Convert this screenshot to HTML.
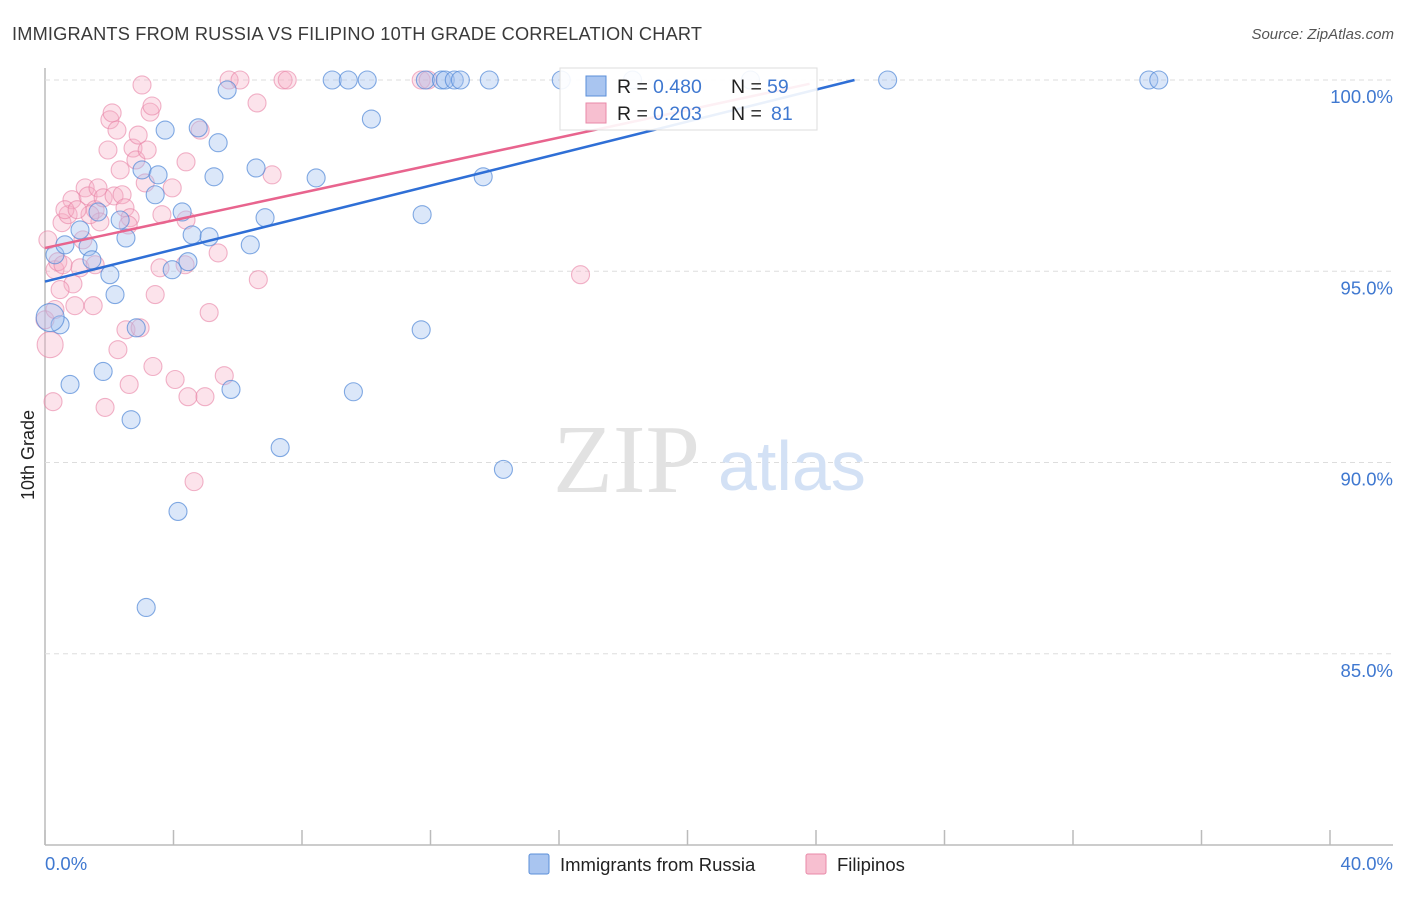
<!DOCTYPE html>
<html><head><meta charset="utf-8"><style>
body{margin:0;background:#fff;font-family:"Liberation Sans",sans-serif;}
</style></head><body>
<svg width="1406" height="892" viewBox="0 0 1406 892" xmlns="http://www.w3.org/2000/svg">
<text x="12" y="40" font-size="18.2" fill="#3a3a3a" textLength="690">IMMIGRANTS FROM RUSSIA VS FILIPINO 10TH GRADE CORRELATION CHART</text>
<text x="1394" y="39" font-size="15" fill="#555" font-style="italic" text-anchor="end">Source: ZipAtlas.com</text>
<g id="grid"></g>
<text x="553" y="492" font-size="98" fill="#e2e2e2" font-family="Liberation Serif,serif">ZIP</text>
<text x="718" y="490" font-size="70" fill="#d3e1f5">atlas</text>
<g id="pts"></g>
<g id="lines"></g>
<text transform="translate(34,455) rotate(-90)" font-size="18" fill="#222" text-anchor="middle">10th Grade</text>
<text x="45" y="870" font-size="18.5" fill="#3f78d0">0.0%</text>
<text x="1393" y="870" font-size="18.5" fill="#3f78d0" text-anchor="end">40.0%</text>
<g>
<rect x="560" y="68" width="257" height="62" fill="#fff" fill-opacity="0.9" stroke="#ddd"/>
<rect x="586" y="76" width="20" height="20" fill="#a9c5f0" stroke="#5b8fd9"/>
<rect x="586" y="103" width="20" height="20" fill="#f7bfd0" stroke="#e88aa8"/>
<text x="617" y="93" font-size="19.5" fill="#222">R =</text>
<text x="653" y="93" font-size="19.5" fill="#3f78d0">0.480</text>
<text x="731" y="93" font-size="19.5" fill="#222">N =</text>
<text x="767" y="93" font-size="19.5" fill="#3f78d0">59</text>
<text x="617" y="120" font-size="19.5" fill="#222">R =</text>
<text x="653" y="120" font-size="19.5" fill="#3f78d0">0.203</text>
<text x="731" y="120" font-size="19.5" fill="#222">N =</text>
<text x="771" y="120" font-size="19.5" fill="#3f78d0">81</text>
</g>
<g>
<rect x="529" y="854" width="20" height="20" rx="2" fill="#a9c5f0" stroke="#5b8fd9"/>
<text x="560" y="871" font-size="18.5" fill="#222">Immigrants from Russia</text>
<rect x="806" y="854" width="20" height="20" rx="2" fill="#f7bfd0" stroke="#e88aa8"/>
<text x="837" y="871" font-size="18.5" fill="#222">Filipinos</text>
</g>
</svg>
<script>
const yTicks=[100,95,90,85];
const yTickLabels=["100.0%","95.0%","90.0%","85.0%"];
const xTicks=[0,4,8,12,16,20,24,28,32,36,40];
const russiaX=[0.31,0.47,0.16,0.78,0.62,1.34,1.09,1.46,2.02,2.18,1.81,2.34,2.52,2.68,2.84,3.15,3.02,3.43,3.52,3.74,3.96,4.14,4.27,4.45,4.58,4.77,5.11,5.26,5.39,5.67,5.79,6.39,6.57,6.85,7.32,8.44,8.94,9.44,10.03,10.16,9.6,11.71,11.74,11.84,12.34,12.46,12.74,12.93,13.64,13.83,14.27,16.07,18.29,21.96,26.23,34.36,34.67,1.65];
const russiaY=[95.43,93.6,93.79,92.04,95.69,95.64,96.08,95.3,94.91,94.39,92.38,96.34,95.87,91.12,93.52,86.21,97.65,97.0,97.52,98.69,95.04,88.72,96.55,95.25,95.95,98.75,95.9,97.47,98.36,99.74,91.91,95.69,97.7,96.4,90.39,97.44,100,100,100,98.98,91.85,93.47,96.48,100,100,100,100,100,97.47,100,89.82,100,100,100,100,100,100,96.55];
const filX=[0.16,0.25,0.31,0.40,0.53,0.72,0.84,0.87,0.93,1.09,1.25,1.34,1.50,1.56,1.65,1.71,1.81,1.87,2.02,2.09,2.15,2.24,2.27,2.34,2.40,2.49,2.52,2.65,2.62,2.74,2.83,2.90,3.02,3.12,3.18,3.27,3.33,3.43,3.36,3.58,3.64,3.96,4.05,4.39,4.39,4.36,4.45,4.64,4.83,4.98,5.11,5.39,5.58,5.73,6.07,6.6,6.64,7.07,7.41,7.54,11.71,11.93,16.67,0.62,0.47,0,0.09,0.56,1.56,1.18,2.96,2.59,1.40,1.96,1.0,0.31];
const filY=[93.08,91.59,95.04,95.25,96.27,96.48,96.87,94.67,94.10,95.09,97.18,96.97,94.10,96.61,97.18,96.29,96.92,91.44,98.96,99.14,96.97,98.69,92.95,97.65,97.0,96.66,93.47,96.4,92.04,98.22,97.91,98.56,99.87,97.31,98.17,99.16,99.32,94.39,92.51,95.09,96.48,97.18,92.17,97.86,96.34,95.17,91.72,89.5,98.69,91.72,93.92,95.48,92.27,100,100,99.4,94.78,97.52,100,100,100,100,94.91,96.61,94.52,93.73,95.82,95.17,95.17,95.82,93.52,96.21,96.48,98.17,96.61,94.0];
const russiaLine=[[0,94.73],[25.2,100]];
const filLine=[[0,95.61],[23.8,99.9]];
const NS="http://www.w3.org/2000/svg";
const sx=v=>45+v*(1285/40);
const sy=v=>845-(v-80)*(765/20);
function mk(t,a){const e=document.createElementNS(NS,t);for(const k in a)e.setAttribute(k,a[k]);return e;}
const grid=document.getElementById('grid');
const ax1=mk('line',{x1:45,y1:68,x2:45,y2:845,stroke:'#bbb','stroke-width':1.5});


grid.appendChild(ax1);
const ax2=mk('line',{x1:45,y1:845,x2:1393,y2:845,stroke:'#bbb','stroke-width':1.5});


grid.appendChild(ax2);
yTicks.forEach((t,i)=>{
 const g=mk('line',{x1:45,y1:sy(t),x2:1393,y2:sy(t),stroke:'#ddd','stroke-dasharray':'5,4'});
 
 
 grid.appendChild(g);
 const l=mk('text',{x:1393,y:sy(t)+23,'font-size':18.5,fill:'#3f78d0','text-anchor':'end'});
 l.textContent=yTickLabels[i];
 
 
 grid.appendChild(l);
});
xTicks.forEach(t=>{
 const k=mk('line',{x1:sx(t),y1:830,x2:sx(t),y2:845,stroke:'#bbb','stroke-width':1.5});
 
 
 grid.appendChild(k);
});
const pts=document.getElementById('pts');
function dot(x,y,r,fill,stroke,name){
 const c=mk('circle',{cx:sx(x),cy:sy(y),r:r,fill:fill,stroke:stroke,'stroke-width':1.1});
 
 
 pts.appendChild(c);
}
filX.forEach((x,i)=>dot(x,filY[i],i===0?13:9,'rgba(245,175,198,0.35)','rgba(232,130,165,0.6)','filipino-point'));
russiaX.forEach((x,i)=>dot(x,russiaY[i],i===2?14:9,'rgba(165,195,240,0.4)','rgba(80,135,215,0.7)','russia-point'));
const lines=document.getElementById('lines');
const pl=mk('line',{x1:sx(filLine[0][0]),y1:sy(filLine[0][1]),x2:sx(filLine[1][0]),y2:sy(filLine[1][1]),stroke:'#e8648e','stroke-width':2.5});


lines.appendChild(pl);
const bl=mk('line',{x1:sx(russiaLine[0][0]),y1:sy(russiaLine[0][1]),x2:sx(russiaLine[1][0]),y2:sy(russiaLine[1][1]),stroke:'#2f6fd6','stroke-width':2.5});


lines.appendChild(bl);
</script>
</body></html>
